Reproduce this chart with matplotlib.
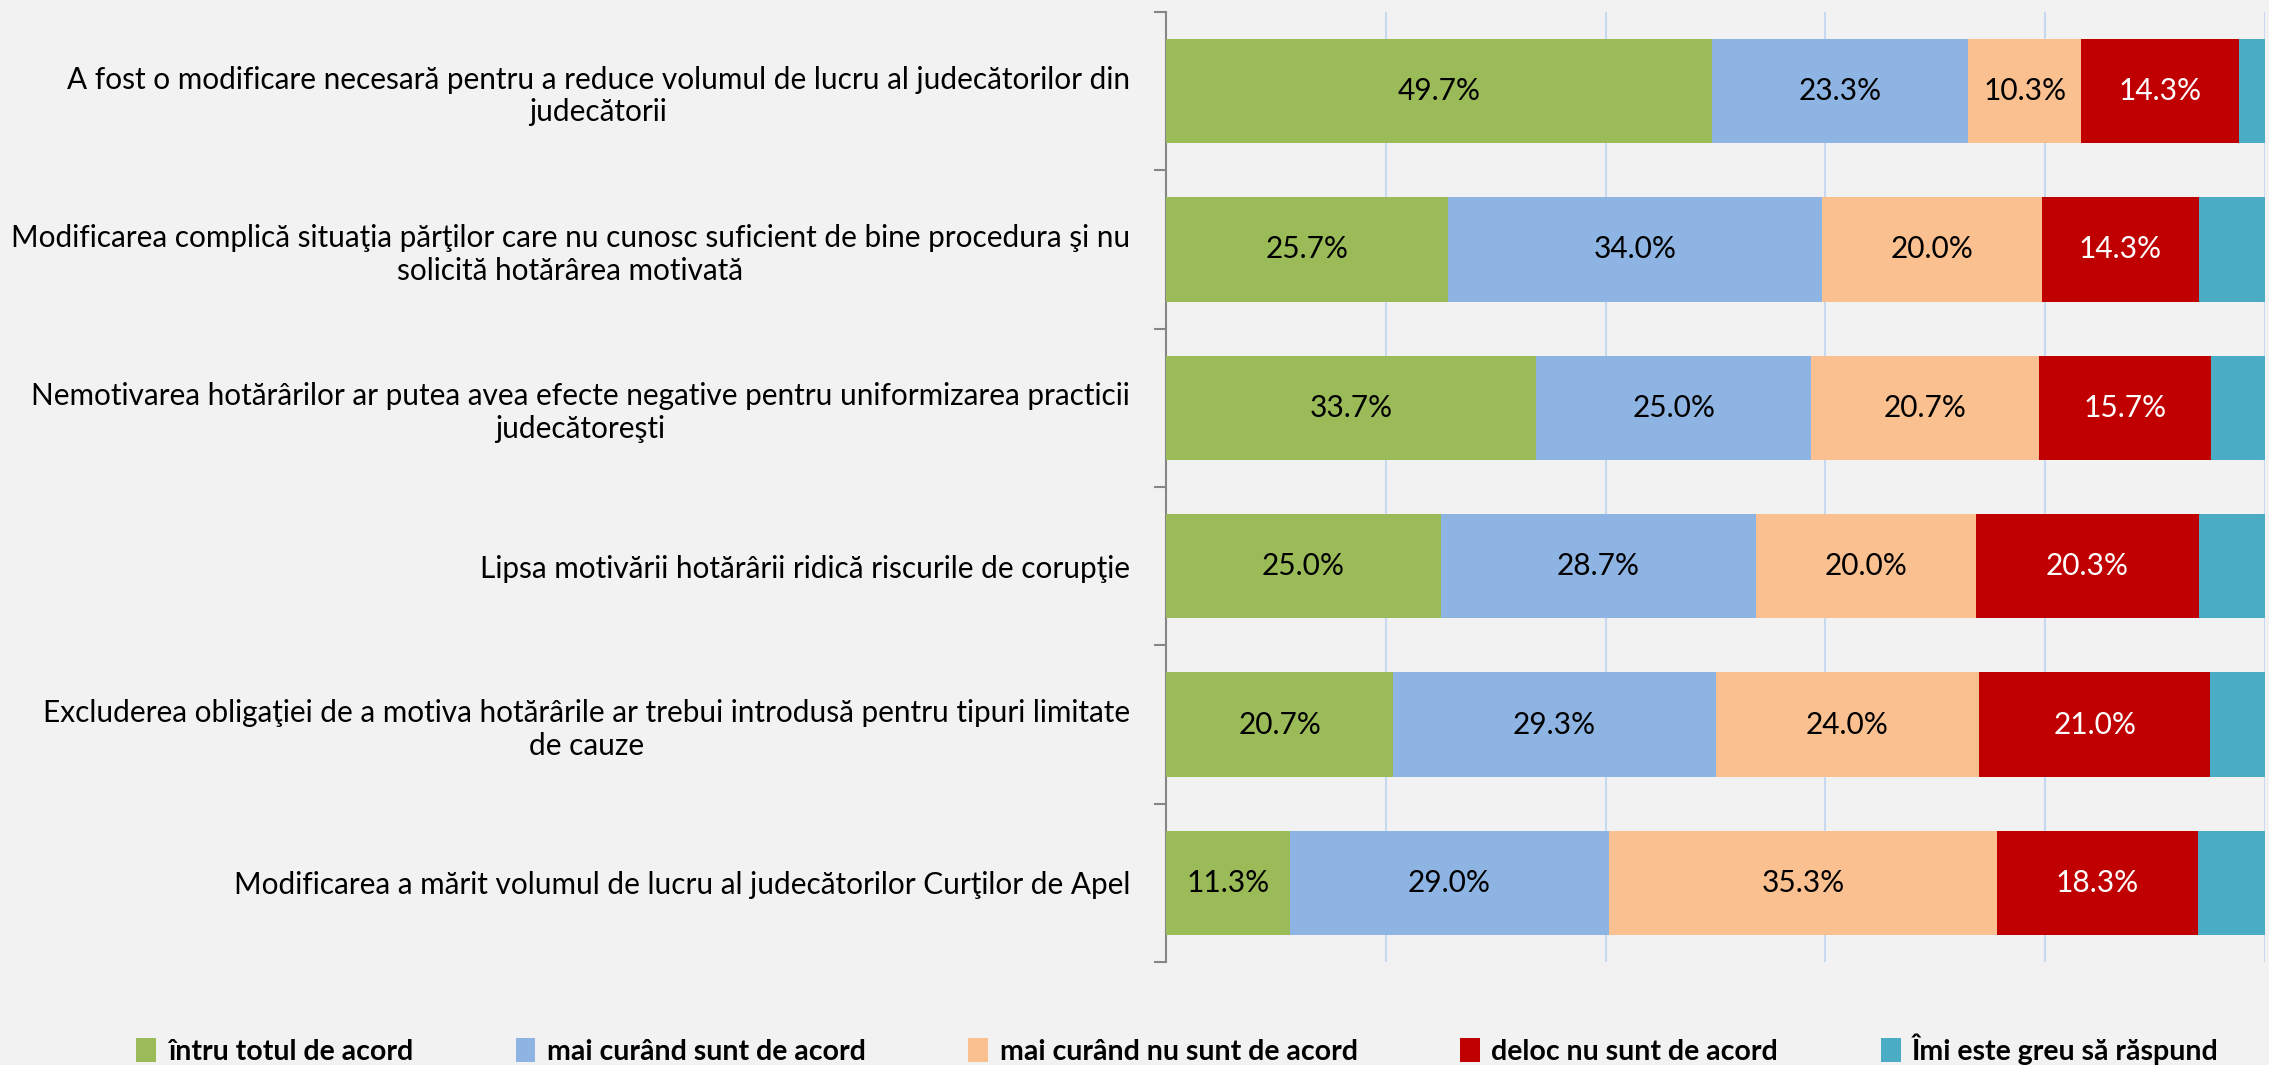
import matplotlib
matplotlib.use("Agg")
import matplotlib.pyplot as plt
import numpy as np
from matplotlib.patches import Patch

categories = [
    "A fost o modificare necesară pentru a reduce volumul de lucru al judecătorilor din\njudecătorii",
    "Modificarea complică situaţia părţilor care nu cunosc suficient de bine procedura şi nu\nsolicită hotărârea motivată",
    "Nemotivarea hotărârilor ar putea avea efecte negative pentru uniformizarea practicii\njudecătoreşti",
    "Lipsa motivării hotărârii ridică riscurile de corupţie",
    "Excluderea obligaţiei de a motiva hotărârile ar trebui introdusă pentru tipuri limitate\nde cauze",
    "Modificarea a mărit volumul de lucru al judecătorilor Curţilor de Apel",
]
series_names = [
    "întru totul de acord",
    "mai curând sunt de acord",
    "mai curând nu sunt de acord",
    "deloc nu sunt de acord",
    "Îmi este greu să răspund",
]
total_agree = [49.7, 25.7, 33.7, 25.0, 20.7, 11.3]
rather_agree = [23.3, 34.0, 25.0, 28.7, 29.3, 29.0]
rather_disagree = [10.3, 20.0, 20.7, 20.0, 24.0, 35.3]
not_agree = [14.3, 14.3, 15.7, 20.3, 21.0, 18.3]
hard_answer = [2.4, 6.0, 4.9, 6.0, 5.0, 6.1]

series = [total_agree, rather_agree, rather_disagree, not_agree, hard_answer]
colors = ["#9bbb59", "#8eb4e3", "#fac090", "#c00000", "#4bacc6"]
label_colors = ["black", "black", "black", "white", None]

plt.rcParams['font.family'] = ['Lato', 'DejaVu Sans']
fig = plt.figure(figsize=(22.69, 10.65), dpi=100, facecolor="#f2f2f2")
ax = fig.add_axes([1166/2269, 1 - 962/1065, (2265-1166)/2269, (962-12)/1065])
ax.set_facecolor("#f2f2f2")

y = np.arange(len(categories))
left = np.zeros(len(categories))
for vals, col, lc in zip(series, colors, label_colors):
    vals = np.array(vals)
    ax.barh(y, vals, left=left, height=0.66, color=col, edgecolor="none", zorder=3)
    if lc is not None:
        for yi, l, v in zip(y, left, vals):
            ax.text(l + v / 2, yi, f"{v:.1f}%", ha="center", va="center",
                    fontsize=21.5, color=lc, zorder=4)
    left += vals

ax.set_xlim(0, 100)
ax.set_ylim(len(categories) - 0.5, -0.5)
ax.set_xticks([20, 40, 60, 80, 100])
ax.xaxis.grid(True, color="#c6d9f1", linewidth=1.5, zorder=0)
ax.tick_params(axis="x", length=0, labelbottom=False)

ax.set_yticks(y)
ax.set_yticklabels(categories, fontsize=21.4, multialignment="center")
ax.tick_params(axis="y", length=0, pad=26)
ax.set_yticks(np.arange(len(categories) + 1) - 0.5, minor=True)
ax.tick_params(axis="y", which="minor", length=9, width=1.5, color="#868686", direction="out")

for s in ["top", "right", "bottom"]:
    ax.spines[s].set_visible(False)
ax.spines["left"].set_color("#868686")
ax.spines["left"].set_linewidth(1.5)

handles = [Patch(facecolor=c, edgecolor="none") for c in colors]
fig.legend(handles, series_names, loc="center", bbox_to_anchor=(0.519, 1 - 1049/1065),
           ncol=5, frameon=False, prop={"weight": "bold", "size": 20.5},
           handlelength=0.7, handleheight=0.95, handletextpad=0.4, columnspacing=3.6)

fig.savefig("out.png", dpi=100, facecolor=fig.get_facecolor())
